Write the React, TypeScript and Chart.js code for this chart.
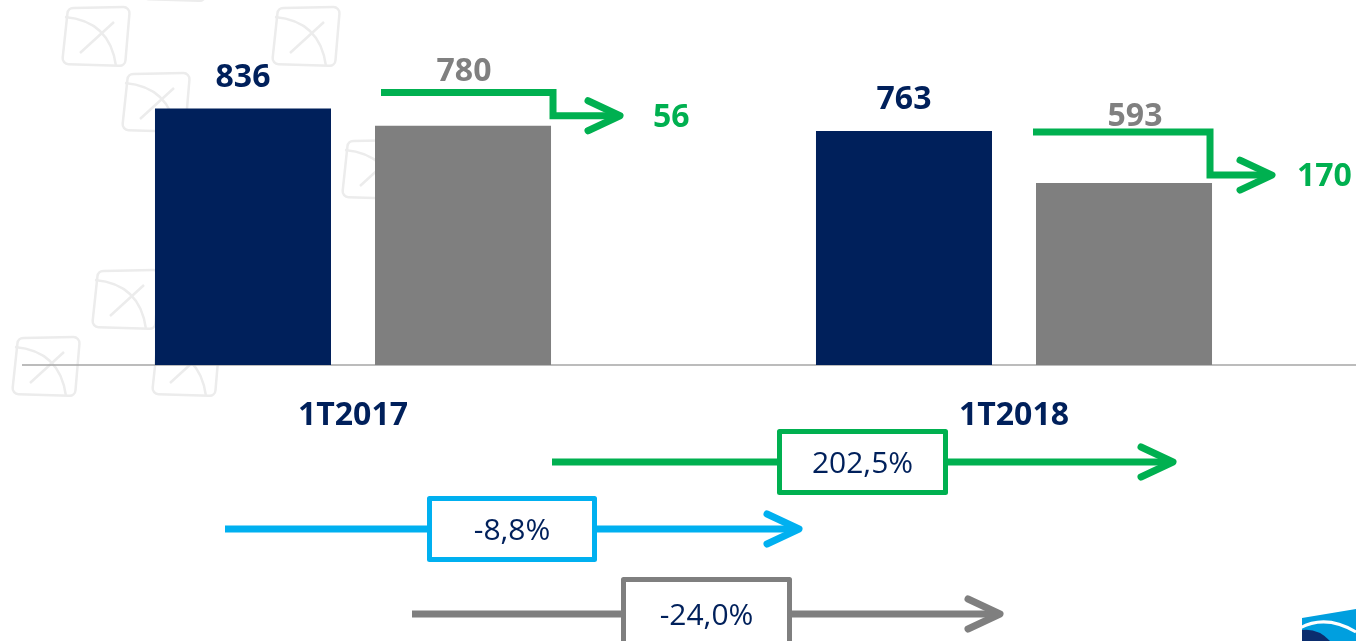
import React, { useEffect, useRef } from "react";
import { Chart, registerables } from "chart.js";

Chart.register(...registerables);

// ---- data ----
const categories = ["1T2017", "1T2018"];
const navyValues = [836, 763];
const grayValues = [780, 593];
const diffLabels = ["56", "170"];
const changeLabels = ["202,5%", "-8,8%", "-24,0%"];

// ---- styles ----
const NAVY = "#00205B";
const GRAY = "#7F7F7F";
const GREEN = "#00B050";
const BLUE = "#00B0F0";
const FONT = "'Open Sans', 'Noto Sans', sans-serif";

// step-arrow layout tweaks per category (pixels)
const stepTopOffset = [-16, 1];
const stepBottomOffset = [-10, -8];
const stepStartOffset = [6, -3];
const stepCornerOffset = [2, -2];
const stepTipLen = [67, 62];
const diffLabelGap = [33, 25];
const grayLabelDx = [1, 11];
const grayLabelAboveLine = [12, 6];

// lower change arrows
const changeArrows = [
  { color: GREEN, x0: 552, x1: 1173, y: 462, bl: 777, br: 948, bt: 429, bb: 495 },
  { color: BLUE, x0: 225, x1: 799, y: 529, bl: 427, br: 597, bt: 496, bb: 562 },
  { color: GRAY, x0: 412, x1: 1000, y: 614, bl: 621, br: 792, bt: 577, bb: 655 },
];

const watermarks = [
  [60, 7], [120, 73], [270, 7], [340, 140], [90, 270], [10, 337], [150, 337], [140, -58],
];

function chevron(ctx: CanvasRenderingContext2D, tx: number, ty: number, color: string) {
  ctx.save();
  ctx.strokeStyle = color;
  ctx.lineWidth = 7;
  ctx.lineCap = "round";
  ctx.lineJoin = "round";
  ctx.beginPath();
  ctx.moveTo(tx - 32, ty - 15);
  ctx.lineTo(tx, ty);
  ctx.lineTo(tx - 32, ty + 15);
  ctx.stroke();
  ctx.restore();
}

function drawWatermark(ctx: CanvasRenderingContext2D, x0: number, y0: number) {
  ctx.save();
  ctx.strokeStyle = "#ECECEC";
  ctx.lineWidth = 2.5;
  ctx.lineJoin = "round";
  ctx.beginPath();
  const p = [
    [x0 + 8, y0 + 1],
    [x0 + 70, y0],
    [x0 + 65, y0 + 59],
    [x0 + 2, y0 + 57],
  ];
  ctx.moveTo((p[0][0] + p[1][0]) / 2, (p[0][1] + p[1][1]) / 2);
  for (let i = 1; i <= 4; i++) {
    const a = p[i % 4];
    const b = p[(i + 1) % 4];
    ctx.arcTo(a[0], a[1], b[0], b[1], 6);
  }
  ctx.closePath();
  ctx.stroke();
  ctx.beginPath();
  ctx.moveTo(x0 + 5, y0 + 10);
  ctx.quadraticCurveTo(x0 + 50, y0 + 14, x0 + 56, y0 + 59);
  ctx.stroke();
  ctx.beginPath();
  ctx.moveTo(x0 + 20, y0 + 46);
  ctx.lineTo(x0 + 54, y0 + 15);
  ctx.stroke();
  ctx.restore();
}

const overlayPlugin = {
  id: "overlay",
  beforeDatasetsDraw(chart: any) {
    const ctx: CanvasRenderingContext2D = chart.ctx;
    watermarks.forEach(([x, y]) => drawWatermark(ctx, x, y));
    const y0 = chart.scales.y.getPixelForValue(0);
    ctx.save();
    ctx.strokeStyle = "#A6A6A6";
    ctx.lineWidth = 1.5;
    ctx.beginPath();
    ctx.moveTo(22, y0);
    ctx.lineTo(1356, y0);
    ctx.stroke();
    ctx.restore();
  },
  afterDatasetsDraw(chart: any) {
    const ctx: CanvasRenderingContext2D = chart.ctx;
    const navyMeta = chart.getDatasetMeta(0);
    const grayMeta = chart.getDatasetMeta(1);
    const xs = chart.scales.x;
    const y0 = chart.scales.y.getPixelForValue(0);

    ctx.save();
    ctx.textBaseline = "alphabetic";

    categories.forEach((cat, i) => {
      const nb = navyMeta.data[i];
      const gb = grayMeta.data[i];
      const gLeft = gb.x - gb.width / 2;
      const gRight = gb.x + gb.width / 2;

      // navy value label
      ctx.font = `bold 32px ${FONT}`;
      ctx.fillStyle = NAVY;
      ctx.textAlign = "center";
      ctx.fillText(String(navyValues[i]), nb.x, nb.y - 22);

      // category label
      ctx.fillText(cat, xs.getPixelForValue(i), y0 + 60);

      // step arrow
      const topY = nb.y + stepTopOffset[i];
      const botY = gb.y + stepBottomOffset[i];
      const cornerX = gRight + stepCornerOffset[i];
      const tipX = cornerX + stepTipLen[i];
      ctx.save();
      ctx.strokeStyle = GREEN;
      ctx.lineWidth = 7;
      ctx.lineJoin = "miter";
      ctx.lineCap = "butt";
      ctx.beginPath();
      ctx.moveTo(gLeft + stepStartOffset[i], topY);
      ctx.lineTo(cornerX, topY);
      ctx.lineTo(cornerX, botY);
      ctx.lineTo(tipX - 3, botY);
      ctx.stroke();
      ctx.restore();
      chevron(ctx, tipX, botY, GREEN);

      // gray value label
      ctx.font = `bold 32px ${FONT}`;
      ctx.fillStyle = "#808080";
      ctx.textAlign = "center";
      ctx.fillText(String(grayValues[i]), gb.x + grayLabelDx[i], topY - grayLabelAboveLine[i]);

      // difference label
      ctx.fillStyle = GREEN;
      ctx.textAlign = "left";
      ctx.fillText(diffLabels[i], tipX + diffLabelGap[i], botY + 11);
    });

    // change arrows with boxes
    changeArrows.forEach((a, k) => {
      ctx.save();
      ctx.strokeStyle = a.color;
      ctx.lineWidth = 7;
      ctx.lineCap = "butt";
      ctx.beginPath();
      ctx.moveTo(a.x0, a.y);
      ctx.lineTo(a.x1 - 3, a.y);
      ctx.stroke();
      ctx.restore();
      chevron(ctx, a.x1, a.y, a.color);

      ctx.save();
      ctx.fillStyle = "#FFFFFF";
      ctx.strokeStyle = a.color;
      ctx.lineWidth = 5;
      ctx.lineJoin = "round";
      ctx.beginPath();
      ctx.rect(a.bl + 2.5, a.bt + 2.5, a.br - a.bl - 5, a.bb - a.bt - 5);
      ctx.fill();
      ctx.stroke();
      ctx.restore();

      ctx.font = `30px ${FONT}`;
      ctx.fillStyle = NAVY;
      ctx.textAlign = "center";
      ctx.textBaseline = "alphabetic";
      ctx.fillText(changeLabels[k], (a.bl + a.br) / 2, a.y + 11);
    });

    // bottom-right logo fragment
    ctx.save();
    ctx.fillStyle = "#009FDF";
    ctx.beginPath();
    ctx.moveTo(1302, 618);
    ctx.lineTo(1356, 609);
    ctx.lineTo(1356, 641);
    ctx.lineTo(1302, 641);
    ctx.closePath();
    ctx.fill();
    ctx.fillStyle = "#0B2D6E";
    ctx.beginPath();
    ctx.moveTo(1302, 630);
    ctx.quadraticCurveTo(1318, 628, 1330, 641);
    ctx.lineTo(1302, 641);
    ctx.closePath();
    ctx.fill();
    ctx.strokeStyle = "#FFFFFF";
    ctx.lineWidth = 3;
    ctx.beginPath();
    ctx.moveTo(1300, 628);
    ctx.quadraticCurveTo(1326, 614, 1356, 632);
    ctx.stroke();
    ctx.restore();

    ctx.restore();
  },
};

export default function App() {
  const canvasRef = useRef<HTMLCanvasElement | null>(null);

  useEffect(() => {
    if (!canvasRef.current) return;
    const chart = new Chart(canvasRef.current, {
      type: "bar",
      data: {
        labels: categories,
        datasets: [
          {
            data: navyValues,
            backgroundColor: NAVY,
            categoryPercentage: 0.6657,
            barPercentage: 0.8,
          },
          {
            data: grayValues,
            backgroundColor: GRAY,
            categoryPercentage: 0.6657,
            barPercentage: 0.8,
          },
        ],
      },
      options: {
        responsive: false,
        animation: false,
        devicePixelRatio: 1,
        layout: { padding: { left: 22.5, right: 11.5, top: 0, bottom: 276 } },
        scales: {
          x: { display: false },
          y: { display: false, min: 0, max: 1190 },
        },
        plugins: {
          legend: { display: false },
          tooltip: { enabled: false },
        },
      },
      plugins: [overlayPlugin],
    } as any);
    return () => chart.destroy();
  }, []);

  return (
    <div style={{ position: "fixed", left: 0, top: 0, width: 1356, height: 641, background: "#FFFFFF" }}>
      <canvas ref={canvasRef} width={1356} height={641} style={{ width: 1356, height: 641, display: "block" }} />
    </div>
  );
}
